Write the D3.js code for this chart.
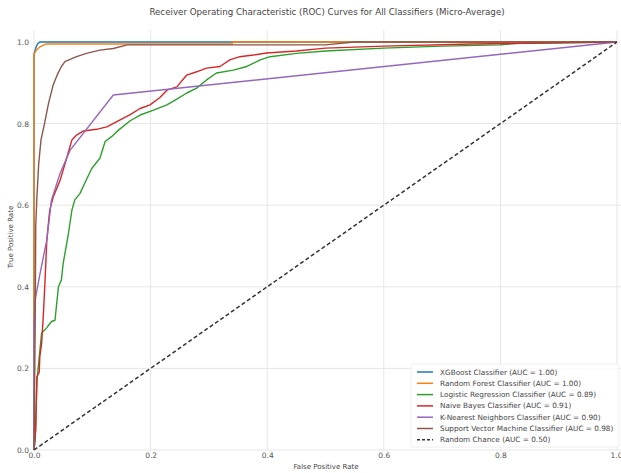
<!DOCTYPE html>
<html><head><meta charset="utf-8">
<script src="https://cdn.jsdelivr.net/npm/d3@7"></script>
<style>body{margin:0;background:#fff}svg{display:block}text{font-family:"DejaVu Sans",sans-serif}</style>
</head><body>
<svg id="c" width="621" height="473"></svg>
<script>
const title = "Receiver Operating Characteristic (ROC) Curves for All Classifiers (Micro-Average)";
const xLabel = "False Positive Rate";
const yLabel = "True Positive Rate";
const ticks = [0, 0.2, 0.4, 0.6, 0.8, 1.0];
const names = ["XGBoost Classifier (AUC = 1.00)","Random Forest Classifier (AUC = 1.00)","Logistic Regression Classifier (AUC = 0.89)","Naive Bayes Classifier (AUC = 0.91)","K-Nearest Neighbors Classifier (AUC = 0.90)","Support Vector Machine Classifier (AUC = 0.98)","Random Chance (AUC = 0.50)"];
const colors = ["#1f77b4","#ff7f0e","#2ca02c","#d62728","#9467bd","#8c564b","#333333"];

const xgbFpr = [0,0,0.003,0.006,0.01,1];
const xgbTpr = [0,0.97,0.985,0.995,1,1];
const rfFpr = [0,0,0.004,0.01,0.02,0.34,0.34,1];
const rfTpr = [0,0.97,0.98,0.988,0.995,0.995,1,1];
const lrFpr = [0,0.002,0.005,0.013,0.022,0.03,0.036,0.039,0.042,0.047,0.05,0.059,0.065,0.07,0.079,0.087,0.099,0.113,0.122,0.133,0.145,0.165,0.182,0.205,0.228,0.245,0.262,0.279,0.296,0.313,0.342,0.365,0.388,0.405,0.45,0.5,0.6,0.7,0.8,0.83,1];
const lrTpr = [0,0.025,0.17,0.286,0.3,0.315,0.318,0.36,0.4,0.417,0.457,0.53,0.588,0.613,0.629,0.654,0.69,0.715,0.756,0.768,0.784,0.807,0.821,0.833,0.846,0.86,0.875,0.887,0.907,0.924,0.931,0.94,0.956,0.964,0.972,0.978,0.985,0.99,0.993,0.997,1];
const nbFpr = [0,0.003,0.005,0.009,0.01,0.013,0.016,0.019,0.022,0.027,0.033,0.045,0.056,0.065,0.073,0.085,0.107,0.125,0.142,0.165,0.182,0.199,0.216,0.228,0.245,0.262,0.279,0.296,0.319,0.336,0.353,0.376,0.399,0.45,0.5,0.6,0.75,1];
const nbTpr = [0,0.05,0.18,0.19,0.229,0.26,0.33,0.417,0.515,0.588,0.62,0.662,0.715,0.76,0.772,0.782,0.786,0.792,0.805,0.822,0.837,0.846,0.864,0.882,0.89,0.919,0.927,0.936,0.94,0.956,0.964,0.968,0.973,0.978,0.985,0.99,0.995,1];
const knnFpr = [0,0,0.002,0.01,0.022,0.03,0.045,0.062,0.136,1];
const knnTpr = [0,0.3,0.368,0.43,0.515,0.613,0.679,0.735,0.87,1];
const svmFpr = [0,0.002,0.003,0.005,0.008,0.012,0.018,0.025,0.033,0.04,0.047,0.053,0.073,0.09,0.113,0.136,0.16,0.5,0.55,1];
const svmTpr = [0,0.3,0.55,0.62,0.7,0.76,0.8,0.85,0.895,0.92,0.94,0.952,0.964,0.972,0.98,0.984,0.993,0.993,1,1];
const chanceFpr = [0,1];
const chanceTpr = [0,1];

const series = [[xgbFpr,xgbTpr],[rfFpr,rfTpr],[lrFpr,lrTpr],[nbFpr,nbTpr],[knnFpr,knnTpr],[svmFpr,svmTpr],[chanceFpr,chanceTpr]];

const svg = d3.select("#c");
const x = d3.scaleLinear().domain([0,1]).range([34,617]);
const y = d3.scaleLinear().domain([0,1]).range([450,42]);

// grid
const g = svg.append("g");
g.selectAll(".vx").data(ticks).join("line").attr("x1",d=>x(d)).attr("x2",d=>x(d)).attr("y1",30).attr("y2",450).attr("stroke","#e6e6e6").attr("stroke-width",1);
g.selectAll(".hy").data(ticks).join("line").attr("x1",34).attr("x2",621).attr("y1",d=>y(d)).attr("y2",d=>y(d)).attr("stroke","#e6e6e6").attr("stroke-width",1);

// axes
const fmt = d3.format(".1f");
const xa = svg.append("g").attr("transform","translate(0,450)").call(d3.axisBottom(x).tickValues(ticks).tickFormat(fmt).tickSize(0).tickPadding(3));
const ya = svg.append("g").attr("transform","translate(34,0)").call(d3.axisLeft(y).tickValues(ticks).tickFormat(fmt).tickSize(0).tickPadding(5));
[xa,ya].forEach(a=>{a.select(".domain").remove();a.selectAll("text").attr("fill","#555").style("font-size","7.5px").style("font-family","DejaVu Sans");});
xa.selectAll(".tick").filter(d=>d===1).select("text").attr("text-anchor","end").attr("dx","5px");

// curves
const line = d3.line().x(d=>x(d[0])).y(d=>y(d[1]));
series.forEach((s,i)=>{
  const pts = s[0].map((v,j)=>[v,s[1][j]]);
  const p = svg.append("path").datum(pts).attr("d",line).attr("fill","none").attr("stroke",colors[i]).attr("stroke-width",1.4).attr("stroke-linejoin","round");
  if(i===6) p.attr("stroke-dasharray","4,2.5").attr("stroke-width",1.5);
});

// title & labels
svg.append("text").attr("x",327).attr("y",15).attr("text-anchor","middle").attr("fill","#444").style("font-size","8.7px").text(title);
svg.append("text").attr("x",326).attr("y",469).attr("text-anchor","middle").attr("fill","#444").style("font-size","7px").text(xLabel);
svg.append("text").attr("transform","translate(13,237) rotate(-90)").attr("text-anchor","middle").attr("fill","#444").style("font-size","7px").text(yLabel);

// legend
const lg = svg.append("g");
lg.append("rect").attr("x",411).attr("y",364).attr("width",208).attr("height",83).attr("rx",2).attr("fill","#fff").attr("fill-opacity",0.8).attr("stroke","#eeeeee");
names.forEach((n,i)=>{
  const yy = 372 + i*11.3;
  lg.append("line").attr("x1",417).attr("x2",433).attr("y1",yy).attr("y2",yy).attr("stroke",colors[i]).attr("stroke-width",1.5).attr("stroke-dasharray",i===6?"3,2":null);
  lg.append("text").attr("x",440).attr("y",yy+2.5).attr("fill","#444").style("font-size","7.3px").text(n);
});
</script>
</body></html>
